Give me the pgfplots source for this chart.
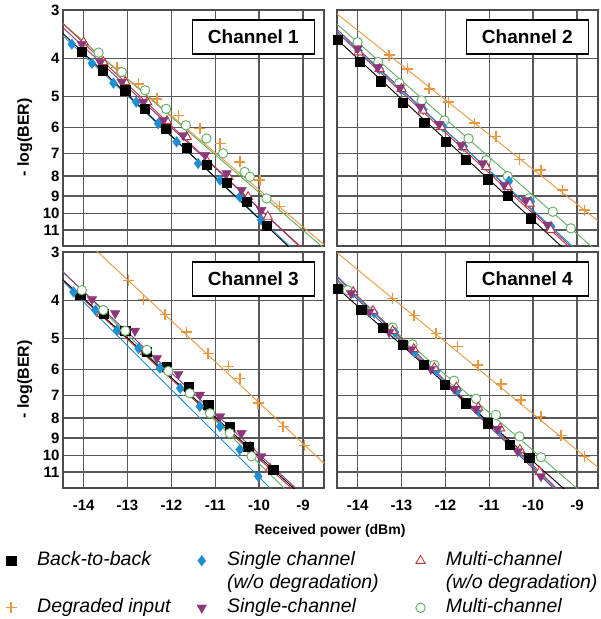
\documentclass[border=0pt]{standalone}
\usepackage{fontspec}
\setmainfont{Liberation Sans}
\usepackage{pgfplots}
\pgfplotsset{compat=1.18}

\definecolor{cSgl}{RGB}{30,144,210}
\definecolor{cMul}{RGB}{200,50,60}
\definecolor{cDeg}{RGB}{235,150,60}
\definecolor{cSdg}{RGB}{140,55,120}
\definecolor{cMdg}{RGB}{95,175,95}

\tikzset{chanbox/.style={draw=black, line width=1.6pt, fill=white, anchor=north east,
    minimum width=122pt, minimum height=34pt, inner sep=2pt,
    font=\fontsize{19}{21}\selectfont\bfseries}}

\pgfplotsset{
  berpanel/.style={
    scale only axis, width=261pt, height=236pt,
    % -log(BER) on a logarithmic scale, growing downwards
    y coord trafo/.code={\pgfmathparse{log10(##1)}},
    y coord inv trafo/.code={\pgfmathparse{10^(##1)}},
    y dir=reverse,
    xmin=-14.47, xmax=-8.52, ymin=3, ymax=12.1,
    xtick={-14,-13,-12,-11,-10,-9}, ytick={3,4,5,6,7,8,9,10,11},
    xticklabels={}, yticklabels={},
    grid=major, major grid style={black!65, line width=1.3pt},
    axis line style={black!70, line width=1.7pt},
    major tick length=0pt, minor tick length=0pt,
    tick label style={font=\fontsize{15}{17}\selectfont\bfseries},
    xticklabel style={yshift=-8.5pt},
  },
  fitln/.style={no marks, line width=0.9pt, forget plot},
  mkbb/.style={only marks, mark=square*, mark size=4.6pt, color=black},
  mksg/.style={only marks, mark=diamond*, mark size=5.3pt, color=cSgl},
  mkmu/.style={only marks, mark=triangle*, mark size=5.3pt, color=cMul,
    mark options={fill=white, draw=cMul, line width=0.9pt}},
  mkdg/.style={only marks, mark=+, mark size=5.5pt, color=cDeg,
    mark options={draw=cDeg, line width=1.5pt}},
  mksd/.style={only marks, mark=triangle*, mark size=5.5pt, color=cSdg, mark options={rotate=180}},
  mkmd/.style={only marks, mark=*, mark size=4.7pt, color=cMdg,
    mark options={fill=white, draw=cMdg, line width=0.9pt}},
}

\begin{document}
\begin{tikzpicture}
\useasboundingbox (0,0) rectangle (601pt,619pt);

% ---------------- Channel 1 ----------------
\begin{axis}[berpanel, at={(63pt,373pt)}, anchor=south west,
  yticklabels={3,4,5,6,7,8,9,10,11}, ylabel={- log(BER)},
  ylabel style={at={(axis description cs:-0.146,0.46)}, anchor=center,
    font=\fontsize{16}{18}\selectfont\bfseries}]
\addplot[fitln, cDeg] coordinates {(-14.6,3.17) (-8.4,12.32)};
\addplot[fitln, cMdg] coordinates {(-14.6,3.16) (-8.4,12.60)};
\addplot[fitln, cMul] coordinates {(-14.6,3.15) (-8.4,14.33)};
\addplot[fitln, cSdg] coordinates {(-14.6,3.23) (-8.4,14.20)};
\addplot[fitln, cSgl] coordinates {(-14.6,3.39) (-8.4,15.05)};
\addplot[fitln, black] coordinates {(-14.6,3.34) (-8.4,15.25)};
\addplot[mkdg] coordinates {(-13.24,4.21) (-12.75,4.64) (-12.33,5.07) (-11.84,5.59) (-11.35,6.05) (-10.89,6.60) (-10.44,7.36) (-9.98,8.20) (-9.53,9.59)};
\addplot[mkmd] coordinates {(-13.66,3.86) (-13.13,4.33) (-12.60,4.82) (-12.12,5.38) (-11.67,5.93) (-11.20,6.41) (-10.82,7.00) (-10.33,7.81) (-10.21,8.04) (-9.83,9.13)};
\addplot[mksg] coordinates {(-14.27,3.67) (-13.81,4.11) (-13.32,4.62) (-12.80,5.17) (-12.30,5.87) (-11.88,6.54) (-11.39,7.43) (-10.89,8.20) (-10.44,9.05) (-9.95,10.37)};
\addplot[mkmu] coordinates {(-14.00,3.63) (-13.55,4.08) (-13.05,4.59) (-12.55,5.17) (-12.10,5.78) (-11.65,6.35) (-11.20,7.29) (-10.70,8.04) (-10.25,9.05) (-9.80,10.17)};
\addplot[mksd] coordinates {(-14.04,3.67) (-13.62,4.08) (-13.13,4.59) (-12.64,5.17) (-12.18,5.76) (-11.73,6.29) (-11.23,7.07) (-10.74,7.88) (-10.40,8.70) (-9.95,9.79)};
\addplot[mkbb] coordinates {(-14.04,3.83) (-13.56,4.28) (-13.05,4.82) (-12.60,5.38) (-12.12,6.05) (-11.65,6.76) (-11.20,7.50) (-10.74,8.33) (-10.29,9.31) (-9.83,10.74)};
\node[chanbox] at (axis description cs:0.966,0.962) {Channel 1};
\end{axis}

% ---------------- Channel 2 ----------------
\begin{axis}[berpanel, at={(337pt,373pt)}, anchor=south west]
\addplot[fitln, cDeg] coordinates {(-14.6,2.99) (-8.4,10.69)};
\addplot[fitln, cMdg] coordinates {(-14.6,3.17) (-8.4,12.89)};
\addplot[fitln, cMul] coordinates {(-14.6,3.32) (-8.4,14.67)};
\addplot[fitln, cSdg] coordinates {(-14.6,3.26) (-8.4,14.50)};
\addplot[fitln, cSgl] coordinates {(-14.6,3.30) (-8.4,14.30)};
\addplot[fitln, black] coordinates {(-14.6,3.46) (-8.4,15.24)};
\addplot[mkdg] coordinates {(-13.28,3.92) (-12.86,4.25) (-12.37,4.78) (-11.93,5.17) (-11.34,5.85) (-10.85,6.33) (-10.31,7.26) (-9.82,7.73) (-9.33,8.70) (-8.83,9.79)};
\addplot[mkmd] coordinates {(-14.00,3.63) (-13.53,4.08) (-13.05,4.62) (-12.54,5.12) (-12.02,5.76) (-11.47,6.41) (-11.07,7.29) (-10.58,8.01) (-10.09,9.13) (-9.55,9.88) (-9.14,10.90)};
\addplot[mksg] coordinates {(-13.98,3.82) (-13.50,4.25) (-13.00,4.80) (-12.50,5.40) (-12.05,5.98) (-11.58,6.72) (-11.10,7.50) (-10.55,8.25) (-10.05,9.30) (-9.59,10.79)};
\addplot[mkmu] coordinates {(-13.98,3.85) (-13.50,4.25) (-13.00,4.78) (-12.52,5.43) (-12.10,5.99) (-11.60,6.74) (-11.07,7.58) (-10.58,8.53) (-10.08,9.41) (-9.60,11.00)};
\addplot[mksd] coordinates {(-14.00,3.77) (-13.54,4.21) (-13.03,4.75) (-12.57,5.32) (-12.14,5.89) (-11.64,6.67) (-11.15,7.43) (-10.66,8.44) (-10.16,9.22) (-9.67,10.68)};
\addplot[mkbb] coordinates {(-14.46,3.58) (-13.96,4.07) (-13.48,4.57) (-12.97,5.19) (-12.48,5.85) (-11.99,6.54) (-11.53,7.26) (-11.04,8.15) (-10.57,9.00) (-10.05,10.27)};
\node[chanbox] at (axis description cs:0.966,0.962) {Channel 2};
\end{axis}

% ---------------- Channel 3 ----------------
\begin{axis}[berpanel, at={(63pt,131pt)}, anchor=south west,
  yticklabels={3,4,5,6,7,8,9,10,11}, ylabel={- log(BER)},
  ylabel style={at={(axis description cs:-0.146,0.46)}, anchor=center,
    font=\fontsize{16}{18}\selectfont\bfseries},
  xticklabels={-14,-13,-12,-11,-10,-9},
  xlabel={Received power (dBm)},
  xlabel style={at={(axis description cs:1.023,-0.182)}, anchor=center,
    font=\fontsize{14}{16}\selectfont\bfseries},
  legend columns=3,
  legend cell align=left,
  legend style={at={(axis description cs:-0.2318,-0.267)}, anchor=north west,
    draw=none, fill=none, inner sep=0pt, row sep=4.5pt,
    font=\fontsize{19.5}{23.5}\selectfont\itshape,
    nodes={inner sep=0pt, text height=14pt, text depth=5pt},
    /tikz/every odd column/.append style={column sep=20.5pt}},
  ]
\addplot[fitln, cDeg] coordinates {(-14.6,2.40) (-8.4,10.76)};
\addplot[fitln, cMdg] coordinates {(-14.6,3.26) (-8.4,15.71)};
\addplot[fitln, cMul] coordinates {(-14.6,3.45) (-8.4,14.84)};
\addplot[fitln, cSdg] coordinates {(-14.6,3.28) (-8.4,14.55)};
\addplot[fitln, cSgl] coordinates {(-14.6,3.45) (-8.4,17.16)};
\addplot[fitln, black] coordinates {(-14.6,3.43) (-8.4,14.64)};
\addplot[mkdg, forget plot] coordinates {(-12.98,3.55) (-12.64,3.97) (-12.14,4.34) (-11.65,4.82) (-11.16,5.46) (-10.70,5.90) (-10.44,6.33) (-10.02,7.33) (-9.45,8.41) (-8.96,9.40)};
\addplot[mkmu, forget plot] coordinates {(-14.08,3.90) (-13.60,4.32) (-13.10,4.80) (-12.60,5.42) (-12.10,6.00) (-11.62,6.70) (-11.15,7.50) (-10.65,8.50) (-10.20,9.50) (-9.75,10.80)};
\addplot[mkbb, forget plot] coordinates {(-14.08,3.87) (-13.55,4.31) (-13.05,4.78) (-12.56,5.40) (-12.11,5.90) (-11.61,6.64) (-11.16,7.40) (-10.67,8.41) (-10.25,9.46) (-9.68,10.85)};
\addplot[mksg, forget plot] coordinates {(-14.23,3.80) (-13.73,4.23) (-13.24,4.76) (-12.75,5.30) (-12.26,5.96) (-11.80,6.71) (-11.35,7.47) (-10.89,8.41) (-10.44,9.65) (-10.02,11.29)};
\addplot[mksd, forget plot] coordinates {(-13.81,3.97) (-13.28,4.31) (-12.83,4.78) (-12.33,5.62) (-11.84,6.17) (-11.35,6.98) (-10.89,7.93) (-10.40,8.75) (-9.95,10.03)};
\addplot[mkmd, forget plot] coordinates {(-14.04,3.76) (-13.55,4.23) (-13.05,4.78) (-12.56,5.35) (-12.07,6.06) (-11.58,6.91) (-11.12,7.78) (-10.67,8.75) (-10.17,10.03)};
\node[chanbox] at (axis description cs:0.966,0.962) {Channel 3};
% legend: three columns, the middle row carries the continuation lines
\addlegendimage{mkbb}
\addlegendentry{\makebox[156pt][l]{Back-to-back}}
\addlegendimage{mksg}
\addlegendentry{\makebox[185pt][l]{Single channel}}
\addlegendimage{mkmu}
\addlegendentry{Multi-channel}
\addlegendimage{empty legend}
\addlegendentry{}
\addlegendimage{empty legend}
\addlegendentry{(w/o degradation)}
\addlegendimage{empty legend}
\addlegendentry{(w/o degradation)}
\addlegendimage{mkdg}
\addlegendentry{Degraded input}
\addlegendimage{mksd}
\addlegendentry{Single-channel}
\addlegendimage{mkmd}
\addlegendentry{Multi-channel}
\end{axis}

% ---------------- Channel 4 ----------------
\begin{axis}[berpanel, at={(337pt,131pt)}, anchor=south west,
  xticklabels={-14,-13,-12,-11,-10,-9}]
\addplot[fitln, cDeg] coordinates {(-14.6,2.93) (-8.4,10.99)};
\addplot[fitln, cMdg] coordinates {(-14.6,3.46) (-8.4,13.87)};
\addplot[fitln, cMul] coordinates {(-14.6,3.35) (-8.4,15.81)};
\addplot[fitln, cSdg] coordinates {(-14.6,3.42) (-8.4,16.09)};
\addplot[fitln, cSgl] coordinates {(-14.6,3.37) (-8.4,15.97)};
\addplot[fitln, black] coordinates {(-14.6,3.60) (-8.4,14.93)};
\addplot[mkdg] coordinates {(-13.20,3.95) (-12.71,4.36) (-12.21,4.85) (-11.72,5.25) (-11.26,5.85) (-10.73,6.55) (-10.28,7.19) (-9.82,7.93) (-9.36,8.86) (-8.83,10.03)};
\addplot[mkmd] coordinates {(-14.23,3.76) (-13.70,4.27) (-13.20,4.69) (-12.75,5.18) (-12.25,5.85) (-11.80,6.42) (-11.30,7.14) (-10.85,7.85) (-10.31,8.92) (-9.82,10.09)};
\addplot[mksg] coordinates {(-14.10,3.82) (-13.62,4.30) (-13.15,4.82) (-12.70,5.42) (-12.20,6.05) (-11.72,6.80) (-11.25,7.65) (-10.78,8.60) (-10.30,9.70) (-9.85,11.10)};
\addplot[mkmu] coordinates {(-14.10,3.80) (-13.65,4.25) (-13.20,4.78) (-12.72,5.32) (-12.25,5.95) (-11.75,6.68) (-11.25,7.52) (-10.75,8.50) (-10.30,9.65) (-9.85,11.00)};
\addplot[mksd] coordinates {(-14.15,3.83) (-13.73,4.27) (-13.28,4.82) (-12.78,5.33) (-12.33,5.99) (-11.80,6.74) (-11.30,7.58) (-10.81,8.53) (-10.35,9.74) (-9.82,11.29)};
\addplot[mkbb] coordinates {(-14.46,3.72) (-13.92,4.21) (-13.43,4.69) (-12.97,5.18) (-12.50,5.83) (-12.01,6.58) (-11.53,7.33) (-11.04,8.25) (-10.54,9.37) (-10.09,10.13)};
\node[chanbox] at (axis description cs:0.966,0.962) {Channel 4};
\end{axis}
\end{tikzpicture}
\end{document}
